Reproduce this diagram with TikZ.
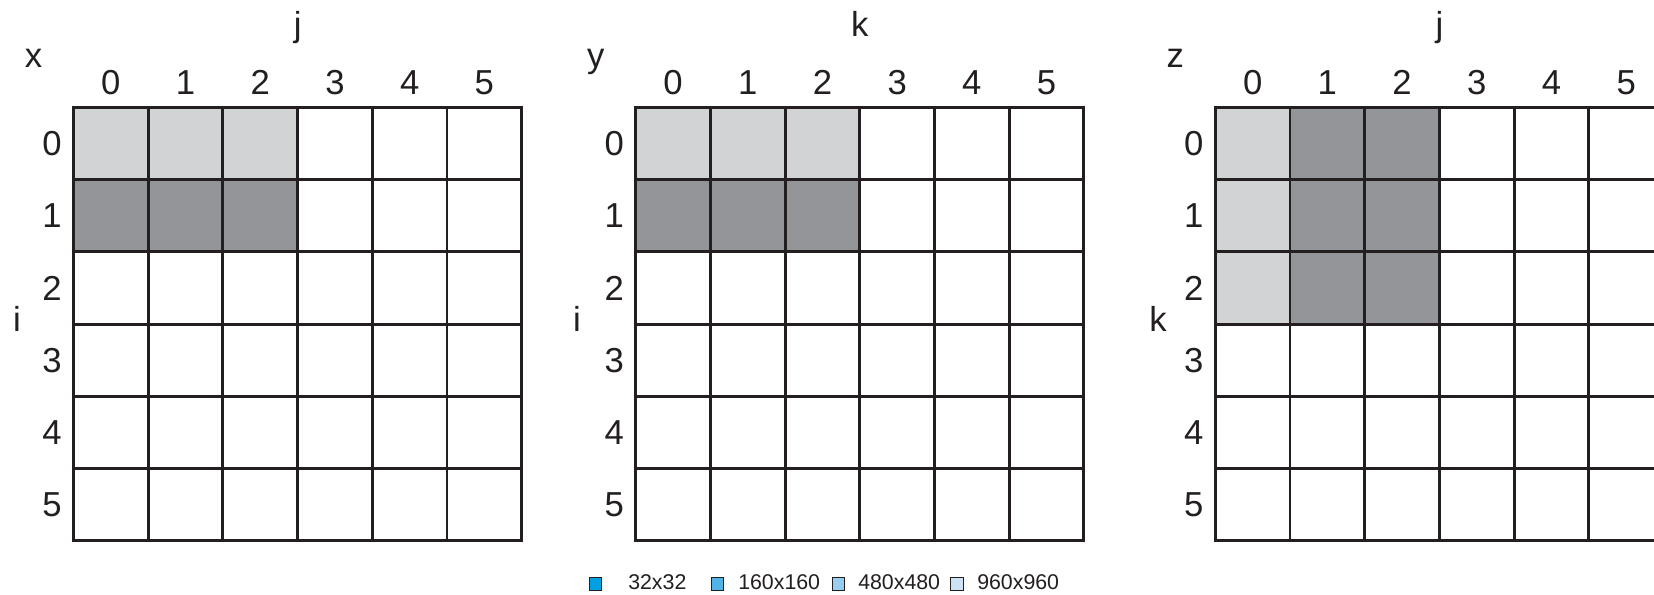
\documentclass[tikz,border=0pt]{standalone}
\usepackage{fontspec}
\setmainfont{Liberation Sans}
\definecolor{ink}{HTML}{231F20}
\definecolor{lightc}{HTML}{D1D3D4}
\definecolor{darkc}{HTML}{939598}
\definecolor{lg1}{RGB}{0,160,227}
\definecolor{lg2}{RGB}{80,180,232}
\definecolor{lg3}{RGB}{150,205,240}
\definecolor{lg4}{RGB}{205,227,245}
\def\cw{74.7}
\def\ch{72.2}
\newcommand\gridpanel[6]{%
  \foreach \c in {0,...,5}{\node[lbl] (#1col\c) at ({#2+(\c+0.5)*\cw},82.5) {\c};}
  \foreach \r in {0,...,5}{\node[lbl] (#1row\r) at ({#2-21.5},{107.5+(\r+0.5)*\ch}) {\r};}
  \node[lbl,anchor=base] (#1top) at ({#2+3*\cw},36) {#4};
  \node[lbl,anchor=base] (#1corner) at ({#2-40},67) {#3};
  \node[lbl,anchor=base] (#1side) at (#6,331) {#5};
  \foreach \c in {1,...,5}{\draw[gridline] ({#2+\c*\cw},107.5) -- ({#2+\c*\cw},{107.5+6*\ch});}
  \foreach \r in {1,...,5}{\draw[gridline] (#2,{107.5+\r*\ch}) -- ({#2+6*\cw},{107.5+\r*\ch});}
  \draw[gridline] (#2,107.5) rectangle ({#2+6*\cw},{107.5+6*\ch});
}
\newcommand\cellfill[4]{\fill[#1] ({#2+#3*\cw},{107.5+#4*\ch}) rectangle ++(\cw,\ch);}
\begin{document}
\begin{tikzpicture}[x=0.75pt,y=-0.75pt,
  lbl/.style={font=\fontsize{26}{30}\selectfont, text=ink, inner sep=0pt},
  legtxt/.style={font=\fontsize{16}{19}\selectfont, text=ink, inner sep=0pt},
  sq/.style={draw=ink, line width=0.9pt, minimum size=9.4pt, inner sep=0pt},
  gridline/.style={draw=ink, line width=2.2pt}]
\useasboundingbox (0,0) rectangle (1654,594);
\clip (0,0) rectangle (1654,594);
\fill[white] (0,0) rectangle (1654,594);
% fills
\foreach \c in {0,1,2}{
  \cellfill{lightc}{73.5}{\c}{0}
  \cellfill{darkc}{73.5}{\c}{1}
  \cellfill{lightc}{635.7}{\c}{0}
  \cellfill{darkc}{635.7}{\c}{1}
}
\foreach \r in {0,1,2}{
  \cellfill{lightc}{1215.3}{0}{\r}
  \cellfill{darkc}{1215.3}{1}{\r}
  \cellfill{darkc}{1215.3}{2}{\r}
}
\gridpanel{ga}{73.5}{x}{j}{i}{17}
\gridpanel{gb}{635.7}{y}{k}{i}{577}
\gridpanel{gc}{1215.3}{z}{j}{k}{1158}
% legend
\foreach \i/\xc/\xt/\t in {1/595.5/628/32x32, 2/717.5/738/160x160, 3/838.5/858/480x480, 4/957/977/960x960}{
  \node[sq, fill=lg\i] (leg\i) at (\xc,584) {};
  \node[legtxt, anchor=base west] (legt\i) at (\xt,589.5) {\t};
}
\end{tikzpicture}
\end{document}
